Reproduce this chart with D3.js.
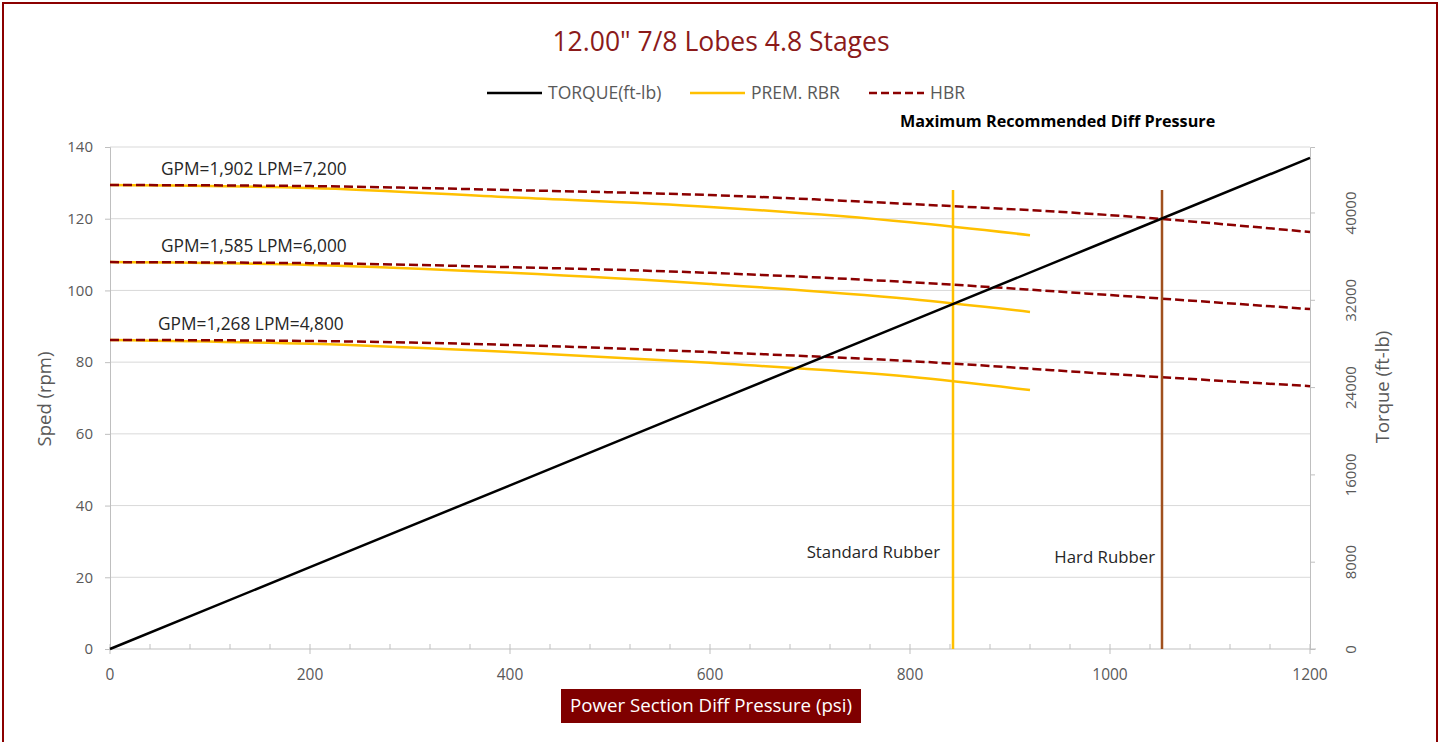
<!DOCTYPE html>
<html>
<head>
<meta charset="utf-8">
<script src="https://cdn.jsdelivr.net/npm/d3@7"></script>
<style>
  body { margin: 0; background: #fff; }
  text { font-family: "Open Sans", Lato, sans-serif; }
</style>
</head>
<body>
<svg width="1443" height="742"></svg>
<script>
// speed curves (rpm) against diff pressure (psi)
const premPsi = [0, 200, 400, 600, 800, 920];
const hbrPsi = [0, 200, 400, 600, 800, 1000, 1200];
const flowLabels = ["GPM=1,902 LPM=7,200", "GPM=1,585 LPM=6,000", "GPM=1,268 LPM=4,800"];
const premHigh = [129.4, 128.6, 126.0, 123.3, 119.0, 115.4];
const premMid = [107.9, 107.1, 104.9, 101.8, 97.6, 94.0];
const premLow = [86.2, 85.1, 82.8, 79.8, 75.9, 72.2];
const hbrHigh = [129.4, 129.1, 128.0, 126.6, 124.1, 121.0, 116.3];
const hbrMid = [107.9, 107.6, 106.5, 104.9, 102.3, 98.7, 94.8];
const hbrLow = [86.2, 85.9, 84.8, 82.8, 80.3, 76.7, 73.3];
// torque (ft-lb), right axis
const torquePsi = [0, 200, 400, 600, 800, 1000, 1200];
const torque = [0, 7500, 15000, 22500, 30000, 37500, 45000];
// max recommended diff pressure markers
const limitNames = ["Standard Rubber", "Hard Rubber"];
const limitPsi = [843, 1052];
const limitTop = [128, 128];

const xTicks = [0, 200, 400, 600, 800, 1000, 1200];
const yTicks = [0, 20, 40, 60, 80, 100, 120, 140];
const tTicks = [0, 8000, 16000, 24000, 32000, 40000];

const color = {
  torque: "#000000",
  prem: "#FFC000",
  hbr: "#8B0000",
  hard: "#A0501E",
  grid: "#D9D9D9",
  axis: "#BFBFBF",
  label: "#595959",
  frame: "#8B0000"
};

var svg = d3.select("svg");
var margin = {left: 110, right: 133, top: 147, bottom: 93};
var width = 1443, height = 742;

var x = d3.scaleLinear().domain([0, 1200]).range([margin.left, width - margin.right]);
var y = d3.scaleLinear().domain([0, 140]).range([height - margin.bottom, margin.top]);
var yT = d3.scaleLinear().domain([0, 46000]).range([height - margin.bottom, margin.top]);

// frame
svg.append("rect")
  .attr("x", 3).attr("y", 3).attr("width", 1434).attr("height", 760)
  .attr("fill", "none").attr("stroke", color.frame).attr("stroke-width", 2);

// title
svg.append("text")
  .attr("x", 721).attr("y", 51)
  .attr("text-anchor", "middle")
  .attr("font-size", 26.5)
  .attr("fill", "#8B1A1A")
  .text('12.00" 7/8 Lobes 4.8 Stages');

// legend
var legend = [
  {name: "TORQUE(ft-lb)", x: 487, c: color.torque, dash: null},
  {name: "PREM. RBR", x: 690, c: color.prem, dash: null},
  {name: "HBR", x: 869, c: color.hbr, dash: "8,4"}
];
var lg = svg.append("g").selectAll("g").data(legend).enter().append("g");
lg.append("line")
  .attr("x1", d => d.x).attr("x2", d => d.x + 55)
  .attr("y1", 93).attr("y2", 93)
  .attr("stroke", d => d.c).attr("stroke-width", 2.5)
  .attr("stroke-dasharray", d => d.dash);
lg.append("text")
  .attr("x", d => d.x + 61).attr("y", 99)
  .attr("font-size", 17.5).attr("fill", color.label)
  .text(d => d.name);

// gridlines
svg.append("g").selectAll("line").data(yTicks.slice(1)).enter().append("line")
  .attr("x1", x(0)).attr("x2", x(1200))
  .attr("y1", d => y(d)).attr("y2", d => y(d))
  .attr("stroke", color.grid).attr("stroke-width", 1);

// left axis
var leftAxis = svg.append("g")
  .attr("transform", "translate(" + x(0) + ",0)")
  .call(d3.axisLeft(y).tickValues(yTicks).tickSize(5).tickPadding(12));
leftAxis.selectAll("text").attr("font-size", 15).attr("fill", color.label).attr("font-family", "Open Sans, sans-serif");
leftAxis.selectAll("line").attr("stroke", color.axis);
leftAxis.select(".domain").attr("stroke", color.axis);

// right axis
var rightAxis = svg.append("g")
  .attr("transform", "translate(" + x(1200) + ",0)")
  .call(d3.axisRight(yT).tickValues(tTicks).tickSize(5).tickFormat(d3.format("d")));
rightAxis.selectAll("line").attr("stroke", color.axis);
rightAxis.select(".domain").attr("stroke", color.axis);
rightAxis.selectAll("text")
  .attr("font-size", 15).attr("fill", color.label).attr("font-family", "Open Sans, sans-serif")
  .attr("x", 0).attr("dy", 0)
  .attr("text-anchor", "middle")
  .attr("transform", "translate(46,0) rotate(-90)");

// bottom axis with minor ticks
var bottom = svg.append("g")
  .attr("transform", "translate(0," + y(0) + ")");
bottom.append("line")
  .attr("x1", x(0)).attr("x2", x(1200) + 6)
  .attr("stroke", color.axis);
bottom.selectAll(".minor").data(d3.range(0, 1201, 40)).enter().append("line")
  .attr("class", "minor")
  .attr("x1", d => x(d)).attr("x2", d => x(d))
  .attr("y1", -5).attr("y2", d => d % 200 === 0 ? 5 : 0)
  .attr("stroke", color.axis);
bottom.selectAll(".lab").data(xTicks).enter().append("text")
  .attr("x", d => x(d)).attr("y", 31)
  .attr("text-anchor", "middle")
  .attr("font-size", 15.5).attr("fill", color.label)
  .text(d => d);

// axis titles
svg.append("rect")
  .attr("x", 561).attr("y", 689).attr("width", 300).attr("height", 34)
  .attr("fill", "#7F0000");
svg.append("text")
  .attr("x", 711).attr("y", 712)
  .attr("text-anchor", "middle").attr("font-size", 18.7).attr("fill", "#fff")
  .text("Power Section Diff Pressure (psi)");
svg.append("text")
  .attr("transform", "translate(51,399) rotate(-90)")
  .attr("text-anchor", "middle").attr("font-size", 18.5).attr("fill", color.label)
  .text("Sped (rpm)");
svg.append("text")
  .attr("transform", "translate(1389,387) rotate(-90)")
  .attr("text-anchor", "middle").attr("font-size", 18.5).attr("fill", color.label)
  .text("Torque (ft-lb)");

// series
var line = d3.line().x(d => x(d[0])).y(d => y(d[1])).curve(d3.curveMonotoneX);
var tline = d3.line().x(d => x(d[0])).y(d => yT(d[1]));

var premSeries = [premHigh, premMid, premLow];
var hbrSeries = [hbrHigh, hbrMid, hbrLow];

svg.append("g").selectAll("path").data(premSeries).enter().append("path")
  .attr("d", s => line(premPsi.map((p, i) => [p, s[i]])))
  .attr("fill", "none").attr("stroke", color.prem).attr("stroke-width", 2.5);

svg.append("g").selectAll("path").data(hbrSeries).enter().append("path")
  .attr("d", s => line(hbrPsi.map((p, i) => [p, s[i]])))
  .attr("fill", "none").attr("stroke", color.hbr).attr("stroke-width", 2.5)
  .attr("stroke-dasharray", "9,4");

// limit markers
var limColors = [color.prem, color.hard];
svg.append("g").selectAll("line").data(limitPsi).enter().append("line")
  .attr("x1", d => x(d)).attr("x2", d => x(d))
  .attr("y1", (d, i) => y(limitTop[i])).attr("y2", y(0))
  .attr("stroke", (d, i) => limColors[i]).attr("stroke-width", 2.5);

svg.append("path")
  .attr("d", tline(torquePsi.map((p, i) => [p, torque[i]])))
  .attr("fill", "none").attr("stroke", color.torque).attr("stroke-width", 2.5);

// annotations
svg.append("g").selectAll("text").data(flowLabels).enter().append("text")
  .attr("x", (d, i) => x(0) + (i === 2 ? 48 : 51))
  .attr("y", (d, i) => y(hbrSeries[i][0]) - 10)
  .attr("font-size", 17.3).attr("fill", "#262626")
  .text(d => d);

svg.append("g").selectAll("text").data(limitNames).enter().append("text")
  .attr("x", (d, i) => x(limitPsi[i]) - 13 + (i === 1 ? 6 : 0))
  .attr("y", (d, i) => i === 0 ? 558 : 563)
  .attr("text-anchor", "end")
  .attr("font-size", 16.8).attr("fill", "#262626")
  .text(d => d);

svg.append("text")
  .attr("x", 900).attr("y", 127)
  .attr("font-size", 16.2).attr("font-weight", "bold").attr("fill", "#000")
  .text("Maximum Recommended Diff Pressure");
</script>
</body>
</html>
